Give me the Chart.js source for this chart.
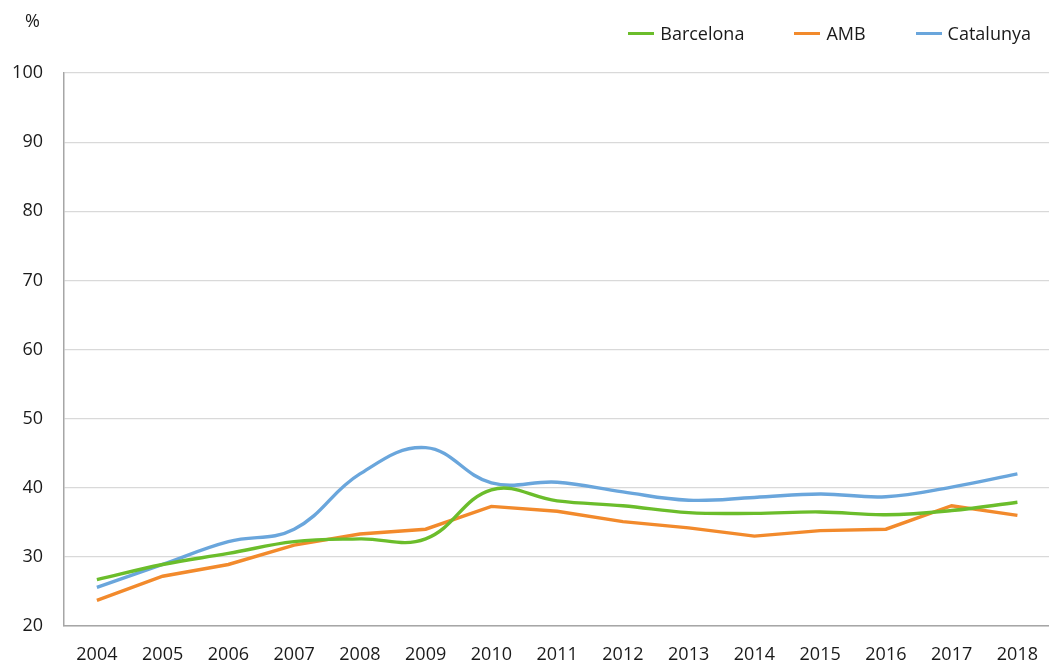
<!DOCTYPE html>
<html lang="ca">
<head>
    <meta charset="UTF-8">
    <title>Barcelona, AMB, Catalunya</title>
    <script src="https://cdn.jsdelivr.net/npm/chart.js"></script>
    <style>
        body { margin: 0; background: #fff; overflow: hidden; font-family: "Open Sans", sans-serif; color: #1a1a1a; }
        #wrap { position: relative; width: 1056px; height: 665px; }
        #unit { position: absolute; left: 25px; top: 8px; font-size: 18px; }
        #legend { position: absolute; right: 25px; top: 21px; display: flex; gap: 50px; font-size: 18px; }
        #legend .item { display: flex; align-items: center; }
        #legend .swatch { width: 26px; height: 3px; margin-right: 6px; }
    </style>
</head>
<body>
<div id="wrap">
    <div id="unit">%</div>
    <div id="legend"></div>
    <canvas id="chart" width="1056" height="665"></canvas>
</div>

<script>
    // Years on the x axis
    const years = ["2004", "2005", "2006", "2007", "2008", "2009", "2010", "2011",
                   "2012", "2013", "2014", "2015", "2016", "2017", "2018"];

    // Values in %
    const barcelona = [26.7, 28.9, 30.5, 32.2, 32.6, 32.6, 39.7, 38.1, 37.4, 36.4, 36.3, 36.5, 36.1, 36.7, 37.9];
    const amb       = [23.7, 27.2, 28.9, 31.7, 33.3, 34.0, 37.3, 36.6, 35.1, 34.2, 33.0, 33.8, 34.0, 37.4, 36.0];
    const catalunya = [25.6, 28.9, 32.2, 34.0, 42.0, 45.8, 40.7, 40.8, 39.4, 38.2, 38.6, 39.1, 38.7, 40.1, 42.0];

    const seriesNames = ["Barcelona", "AMB", "Catalunya"];
    const seriesColors = ["#6bbd2b", "#f28a2c", "#6aa6dc"];

    // y axis 20..100, step 10
    const yMin = 20, yMax = 100, yStep = 10;

    const font = { family: "'Open Sans', sans-serif", size: 18 };

    function makeSet(i, data, tension) {
        return {
            label: seriesNames[i],
            data: data,
            borderColor: seriesColors[i],
            backgroundColor: seriesColors[i],
            borderWidth: 3.4,
            pointRadius: 0,
            tension: tension,
            fill: false
        };
    }

    const ctx = document.getElementById("chart").getContext("2d");
    const chart = new Chart(ctx, {
        type: "line",
        data: {
            labels: years,
            datasets: [
                makeSet(0, barcelona, 0.4),
                makeSet(1, amb, 0),
                makeSet(2, catalunya, 0.4)
            ]
        },
        options: {
            responsive: false,
            animation: false,
            layout: { padding: { top: 73, right: 0, bottom: 0, left: 0 } },
            plugins: {
                legend: { display: false },
                tooltip: { enabled: false }
            },
            scales: {
                x: {
                    offset: true,
                    grid: { display: false, drawTicks: false },
                    border: { display: true, color: "#a6a6a6", width: 1.5 },
                    ticks: { color: "#1a1a1a", font: font, padding: 18, maxRotation: 0, autoSkip: false },
                    afterFit: (scale) => { scale.height = 39; }
                },
                y: {
                    min: yMin,
                    max: yMax,
                    grid: { color: "#d9d9d9", lineWidth: 1.2, drawTicks: false },
                    border: { display: true, color: "#a6a6a6", width: 1.5 },
                    ticks: { stepSize: yStep, color: "#1a1a1a", font: font, padding: 21 },
                    afterFit: (scale) => { scale.width = 64; }
                }
            }
        }
    });

    // Legend built from the datasets
    const legend = document.getElementById("legend");
    chart.data.datasets.forEach(ds => {
        const item = document.createElement("div");
        item.className = "item";
        const sw = document.createElement("span");
        sw.className = "swatch";
        sw.style.background = ds.borderColor;
        const txt = document.createElement("span");
        txt.textContent = ds.label;
        item.appendChild(sw);
        item.appendChild(txt);
        legend.appendChild(item);
    });
</script>
</body>
</html>
